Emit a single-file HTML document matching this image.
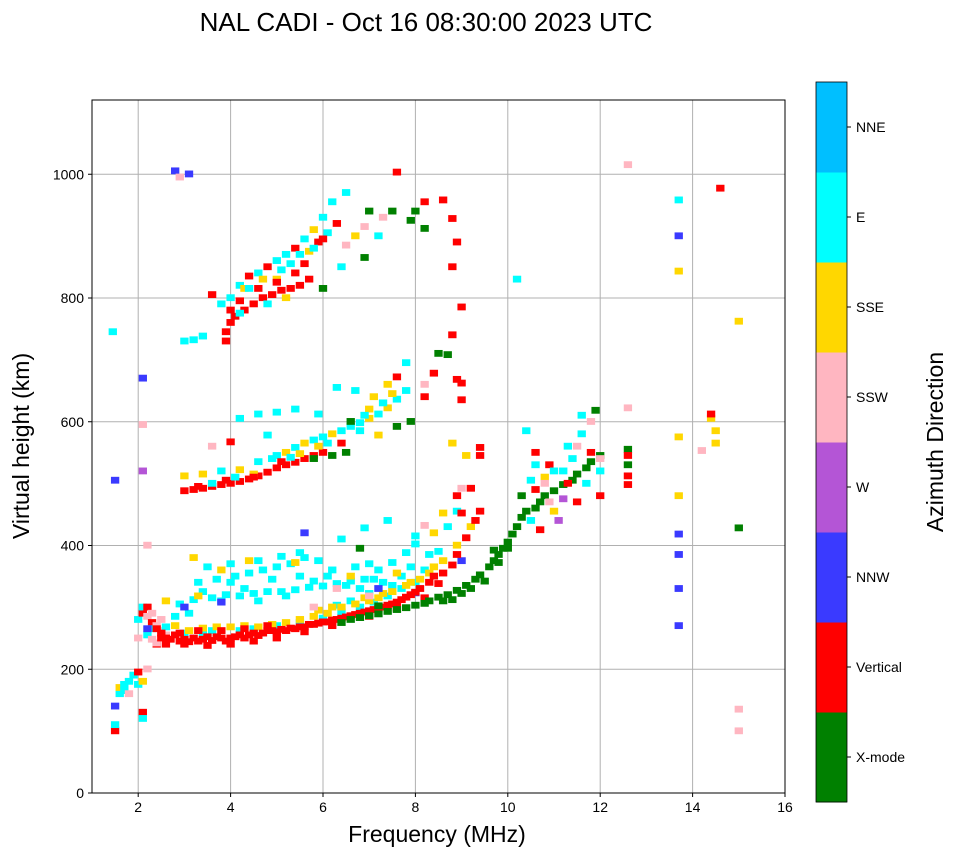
<!DOCTYPE html>
<html><head><meta charset="utf-8"><style>
body{margin:0;background:#fff;width:958px;height:857px;overflow:hidden;font-family:"Liberation Sans",sans-serif}
svg text{font-family:"Liberation Sans",sans-serif}
</style></head><body>
<svg id="chart" width="958" height="857">
<text x="426" y="31" font-size="26" text-anchor="middle">NAL CADI - Oct 16 08:30:00 2023 UTC</text>
<g id="grid"></g><g id="marks"></g><g id="axes"></g><g id="cbar"></g>
<text x="437" y="842" font-size="23" text-anchor="middle">Frequency (MHz)</text>
<text transform="translate(29,446) rotate(-90)" font-size="23" text-anchor="middle">Virtual height (km)</text>
<text transform="translate(943,442) rotate(-90)" font-size="23" text-anchor="middle">Azimuth Direction</text>
</svg>
<script>
const xTicks=[2,4,6,8,10,12,14,16];
const yTicks=[0,200,400,600,800,1000];
const dirNames=["X-mode","Vertical","NNW","W","SSW","SSE","E","NNE"];
const dirColors=["#008000","#ff0000","#3a3aff","#b455d6","#ffb6c1","#ffd700","#00ffff","#00bfff"];
// echoes: [frequency MHz, virtual height km, direction index]
const eLayer=[[1.5,100,1],[1.5,110,6],[1.5,140,2],[1.6,160,6],[1.6,170,5],[1.7,165,6],[1.7,175,6],[1.8,160,4],[1.8,180,6],[1.9,190,6],[2.0,195,1],[2.0,175,6],[2.1,130,1],[2.1,120,6],[2.1,180,5],[2.0,250,4],[2.0,280,6],[2.1,290,1],[2.1,300,6],[2.2,285,4],[2.2,300,1],[2.3,275,1],[2.3,290,4],[2.3,265,6],[1.45,745,6],[2.1,670,2],[2.1,520,3],[1.5,505,2],[2.1,595,4],[2.4,270,4],[2.5,262,4],[2.2,255,6],[2.4,240,1]];
const fRed=[[2.4,265],[2.5,258],[2.5,250],[2.6,250],[2.7,248],[2.8,255],[2.9,245],[3.0,248],[3.1,244],[3.2,250],[3.3,245],[3.4,248],[3.5,252],[3.6,246],[3.7,252],[3.8,250],[3.9,245],[4.0,250],[4.1,252],[4.2,255],[4.3,250],[4.4,255],[4.5,258],[4.6,254],[4.7,258],[4.8,262],[4.9,262],[5.0,260],[5.1,264],[5.2,262],[5.3,266],[5.4,265],[5.5,268],[5.6,268],[5.7,272],[5.8,272],[5.9,274],[6.0,276],[6.1,276],[6.2,279],[6.3,280],[6.4,282],[6.5,284],[6.6,286],[6.7,288],[6.8,290],[6.9,292],[7.0,294],[7.1,296],[7.2,298],[7.3,300],[7.4,303],[7.5,305],[7.6,308],[7.7,312],[7.8,316],[7.9,320],[8.0,324],[8.1,330],[8.3,340],[8.4,350],[8.6,355],[8.8,368],[8.9,385],[9.1,412],[9.3,440],[9.4,455],[9.0,452],[8.9,480],[9.2,492],[9.4,545],[9.4,558],[9.0,635],[9.0,662],[8.8,740],[9.0,785],[8.8,850],[8.9,890],[8.8,928],[8.6,958],[8.2,955],[7.6,1003],[3.0,240],[3.5,238],[4.0,240],[4.5,245],[5.0,250],[3.3,262],[4.3,265],[5.6,260],[6.2,270],[7.0,285],[7.6,298],[8.2,315],[8.5,338],[2.6,240],[2.9,258],[3.8,262],[4.8,270]];
const fGreen=[[6.4,275],[6.6,280],[6.8,283],[7.0,286],[7.2,289],[7.4,293],[7.6,296],[7.8,299],[8.0,303],[8.2,306],[8.3,310],[8.5,316],[8.7,320],[8.9,327],[9.1,335],[9.3,345],[9.4,352],[9.6,365],[9.7,375],[9.8,385],[9.9,395],[10.0,405],[10.1,418],[10.2,430],[10.3,445],[10.4,455],[10.6,460],[10.7,470],[10.8,480],[11.0,488],[11.2,498],[11.4,505],[11.5,515],[11.7,525],[11.8,535],[12.0,545],[11.9,618],[12.6,530],[12.6,555],[10.3,480],[15.0,428],[7.2,302],[6.8,395],[6.5,550],[7.6,592],[7.9,600],[7.0,940],[7.5,940],[7.9,925],[8.2,912],[8.0,940],[6.9,865],[6.0,815],[8.5,710],[8.8,312],[9.0,322],[9.2,330],[9.5,342],[9.8,372],[10.0,395],[8.6,310],[9.7,392]];
const fYellow=[[2.8,270],[3.1,262],[3.4,266],[3.7,268],[4.0,268],[4.3,270],[4.6,268],[4.9,272],[5.2,275],[5.5,280],[5.8,285],[6.1,290],[6.4,300],[6.7,305],[7.0,310],[7.2,315],[7.5,325],[7.8,335],[8.1,345],[8.3,355],[8.6,375],[8.9,400],[9.2,430],[8.4,420],[3.8,360],[4.4,375],[3.2,380],[5.4,372],[6.6,350],[7.6,355],[2.6,310],[3.3,318],[8.6,452],[8.8,565],[9.1,545],[5.9,295],[6.9,315],[7.3,322],[7.9,340],[8.4,365],[6.2,300]];
const fCyan=[[2.6,268],[3.0,258],[3.4,258],[3.6,262],[4.2,262],[4.5,265],[5.0,270],[5.5,275],[6.0,282],[6.4,292],[6.8,300],[7.1,308],[7.4,318],[7.7,330],[8.0,340],[8.2,360],[8.5,390],[8.7,430],[8.9,455],[2.9,305],[3.2,312],[3.6,315],[3.9,320],[4.2,318],[4.5,322],[4.8,325],[5.1,325],[5.4,328],[5.7,332],[6.0,334],[6.3,338],[6.6,342],[6.9,345],[7.2,360],[7.5,372],[7.8,388],[8.0,402],[3.3,340],[3.7,345],[4.1,350],[4.4,355],[4.7,360],[5.0,365],[5.3,370],[5.6,380],[5.9,375],[6.2,360],[6.7,365],[7.0,370],[3.5,365],[4.0,370],[4.6,375],[5.1,382],[5.5,388],[6.4,410],[6.9,428],[7.4,440],[8.0,415],[3.8,310],[4.9,345],[5.8,342],[4.3,330],[5.2,318],[6.1,350],[6.5,335],[7.3,340],[7.7,350],[3.4,325],[4.0,340],[4.6,310],[5.5,350],[6.8,330],[7.1,345],[2.8,285],[3.1,290],[6.3,303],[6.6,310],[7.0,322],[7.5,335],[7.9,365],[8.3,385]];
const fPink=[[2.3,248],[2.4,242],[2.6,255],[2.2,200],[2.5,280],[5.8,300],[7.0,318],[6.3,330],[2.2,400],[8.2,432],[9.0,492]];
const fBlue=[[3.0,300],[3.8,308],[5.6,420],[7.2,330],[8.0,323],[9.0,375],[2.2,265]];
const hop2=[[3.0,488,1],[3.2,490,1],[3.4,492,1],[3.6,495,1],[3.8,498,1],[4.0,500,1],[4.2,503,1],[4.4,507,1],[4.6,512,1],[4.8,518,1],[5.0,525,1],[5.2,530,1],[5.4,534,1],[5.6,540,1],[5.8,545,1],[6.0,550,1],[4.1,510,6],[3.6,500,6],[4.5,515,5],[3.0,512,5],[3.4,515,5],[3.8,520,6],[4.2,522,5],[4.6,535,6],[5.0,545,6],[5.2,550,5],[5.4,558,6],[5.6,565,5],[5.8,570,6],[6.0,575,6],[6.2,580,5],[6.4,585,6],[6.6,592,6],[6.8,598,6],[7.0,605,5],[7.2,612,6],[7.4,622,5],[7.6,636,6],[7.8,650,6],[7.8,695,6],[7.6,672,1],[8.2,640,1],[8.2,660,4],[7.0,620,5],[6.6,600,0],[6.8,585,6],[7.2,578,5],[6.4,565,1],[6.2,545,0],[5.8,540,0],[4.6,612,6],[4.2,605,6],[5.0,615,6],[5.4,620,6],[5.9,612,6],[4.0,567,1],[3.6,560,4],[4.8,578,6],[6.3,655,6],[6.7,650,6],[7.1,640,5],[7.4,660,5],[8.4,678,1],[8.7,708,0],[8.9,668,1],[3.3,495,1],[3.9,505,1],[4.5,510,1],[5.1,535,1],[5.5,548,5],[5.9,560,5],[6.1,565,6],[6.9,610,6],[7.3,630,6],[7.5,645,5],[4.9,540,6],[5.3,542,6]];
const hop3=[[3.9,745,1],[4.0,760,1],[4.1,770,1],[4.3,780,1],[4.5,790,1],[4.7,800,1],[4.9,805,1],[5.1,812,1],[5.3,815,1],[5.5,820,1],[5.7,830,1],[3.9,730,1],[4.2,775,6],[4.0,800,6],[4.2,820,6],[4.4,835,1],[4.6,840,6],[4.8,850,1],[5.0,860,6],[5.2,870,6],[5.4,880,1],[5.6,895,6],[5.8,910,5],[6.0,930,6],[4.3,815,5],[4.7,830,5],[5.1,845,6],[5.5,870,6],[5.7,875,5],[5.9,890,1],[6.1,905,6],[6.3,920,1],[6.5,885,4],[6.7,900,5],[6.9,915,4],[7.2,900,6],[6.2,955,6],[6.5,970,6],[3.0,730,6],[3.2,732,6],[3.4,738,6],[3.6,805,1],[3.8,790,6],[4.4,815,6],[5.0,830,5],[5.3,855,6],[6.4,850,6],[7.3,930,4],[2.8,1005,2],[3.1,1000,2],[2.9,995,4],[4.0,780,1],[4.2,795,1],[4.6,815,1],[5.0,825,1],[5.4,840,1],[5.6,855,1],[4.8,790,6],[5.2,800,5],[5.8,880,6],[6.0,895,1]];
const farRight=[[10.4,585,6],[10.6,550,1],[10.6,530,6],[10.8,510,5],[10.6,490,1],[10.9,470,4],[11.0,455,5],[11.1,440,3],[11.2,475,3],[11.3,500,1],[11.4,540,6],[11.5,560,4],[11.6,580,6],[11.8,600,4],[12.0,520,6],[12.0,480,1],[11.8,550,1],[11.6,610,6],[10.7,425,1],[10.5,440,6],[10.9,530,1],[11.2,520,6],[11.5,470,1],[10.2,830,6],[12.6,1015,4],[12.6,622,4],[12.6,498,1],[12.6,512,1],[12.6,545,1],[13.7,958,6],[13.7,900,2],[13.7,843,5],[13.7,575,5],[13.7,480,5],[13.7,418,2],[13.7,385,2],[13.7,330,2],[13.7,270,2],[14.4,605,5],[14.5,585,5],[14.5,565,5],[14.2,553,4],[14.6,977,1],[15.0,762,5],[15.0,135,4],[15.0,100,4],[14.4,612,1],[10.8,500,4],[11.0,520,6],[11.3,560,6],[11.7,500,6],[12.0,540,4],[10.5,505,6]];

const X0=92,X1=785,Y0=793,Y1=100,XMIN=1,XMAX=16,YMIN=0,YMAX=1120;
const xs=f=>X0+(f-XMIN)/(XMAX-XMIN)*(X1-X0);
const ys=h=>Y0-(h-YMIN)/(YMAX-YMIN)*(Y0-Y1);
const NS="http://www.w3.org/2000/svg";
function mk(tag,attrs,parent){const e=document.createElementNS(NS,tag);for(const k in attrs)e.setAttribute(k,attrs[k]);parent.appendChild(e);return e;}
const grid=document.getElementById('grid'),marks=document.getElementById('marks'),axes=document.getElementById('axes'),cbar=document.getElementById('cbar');
xTicks.forEach(t=>{const l=mk('line',{x1:xs(t),x2:xs(t),y1:Y1,y2:Y0,stroke:'#b0b0b0','stroke-width':1},grid);


mk('line',{x1:xs(t),x2:xs(t),y1:Y0,y2:Y0+4,stroke:'#000'},axes);
const tx=mk('text',{x:xs(t),y:Y0+19,'font-size':14,'text-anchor':'middle'},axes);tx.textContent=t;

});
yTicks.forEach(t=>{const l=mk('line',{x1:X0,x2:X1,y1:ys(t),y2:ys(t),stroke:'#b0b0b0','stroke-width':1},grid);


mk('line',{x1:X0-4,x2:X0,y1:ys(t),y2:ys(t),stroke:'#000'},axes);
const tx=mk('text',{x:X0-8,y:ys(t)+5,'font-size':14,'text-anchor':'end'},axes);tx.textContent=t;

});
const frame=mk('rect',{x:X0,y:Y1,width:X1-X0,height:Y0-Y1,fill:'none',stroke:'#000','stroke-width':1},axes);


function cell(f,h,m){const r=mk('rect',{x:xs(f-0.09),y:ys(h+6),width:(xs(0.18)-xs(0)),height:ys(0)-ys(11),fill:dirColors[m]},marks);

}
eLayer.forEach(p=>cell(p[0],p[1],p[2]));
fCyan.forEach(p=>cell(p[0],p[1],6));
fYellow.forEach(p=>cell(p[0],p[1],5));
fPink.forEach(p=>cell(p[0],p[1],4));
fBlue.forEach(p=>cell(p[0],p[1],2));
fRed.forEach(p=>cell(p[0],p[1],1));
fGreen.forEach(p=>cell(p[0],p[1],0));
hop2.forEach(p=>cell(p[0],p[1],p[2]));
hop3.forEach(p=>cell(p[0],p[1],p[2]));
farRight.forEach(p=>cell(p[0],p[1],p[2]));
const CB_X=816,CB_W=31,CB_TOP=82,CB_BOT=802,seg=(CB_BOT-CB_TOP)/dirNames.length;
dirNames.forEach((n,i)=>{const y=CB_BOT-(i+1)*seg;
const r=mk('rect',{x:CB_X,y:y,width:CB_W,height:seg+0.5,fill:dirColors[i]},cbar);


mk('line',{x1:CB_X+CB_W,x2:CB_X+CB_W+4,y1:y+seg/2,y2:y+seg/2,stroke:'#000'},cbar);
const t=mk('text',{x:CB_X+CB_W+9,y:y+seg/2+5,'font-size':14},cbar);t.textContent=n;

});
mk('rect',{x:CB_X,y:CB_TOP,width:CB_W,height:CB_BOT-CB_TOP,fill:'none',stroke:'#000','stroke-width':0.8},cbar);
</script>
</body></html>
